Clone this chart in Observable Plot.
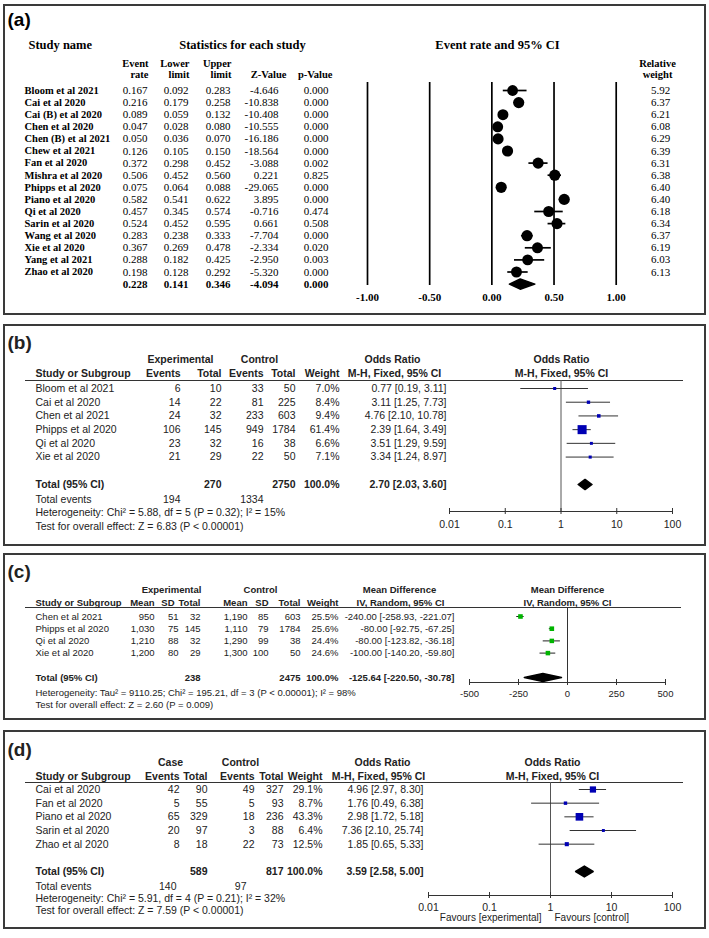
<!DOCTYPE html>
<html><head><meta charset="utf-8">
<script src="https://cdn.jsdelivr.net/npm/d3@7"></script>
<script src="https://cdn.jsdelivr.net/npm/@observablehq/plot@0.6"></script>
<style>
body{margin:0;background:#fff;}
#root{position:relative;width:709px;height:938px;overflow:hidden;background:#fff;}
.box{position:absolute;border:2px solid #3a3a3a;box-sizing:border-box;}
</style></head><body><div id="root"></div>
<script>
// ---------- Panel (a) data ----------
const aStudies = ["Bloom et al 2021","Cai et al 2020","Cai (B) et al 2020","Chen et al 2020","Chen (B) et al 2021","Chew et al 2021","Fan et al 2020","Mishra et al 2020","Phipps et al 2020","Piano et al 2020","Qi et al 2020","Sarin et al 2020","Wang et al 2020","Xie et al 2020","Yang et al 2021","Zhao et al 2020"];
const aRate  = [0.167,0.216,0.089,0.047,0.050,0.126,0.372,0.506,0.075,0.582,0.457,0.524,0.283,0.367,0.288,0.198];
const aLower = [0.092,0.179,0.059,0.028,0.036,0.105,0.298,0.452,0.064,0.541,0.345,0.452,0.238,0.269,0.182,0.128];
const aUpper = [0.283,0.258,0.132,0.080,0.070,0.150,0.452,0.560,0.088,0.622,0.574,0.595,0.333,0.478,0.425,0.292];
const aZ     = [-4.646,-10.838,-10.408,-10.555,-16.186,-18.564,-3.088,0.221,-29.065,3.895,-0.716,0.661,-7.704,-2.334,-2.950,-5.320];
const aP     = [0.000,0.000,0.000,0.000,0.000,0.000,0.002,0.825,0.000,0.000,0.474,0.508,0.000,0.020,0.003,0.000];
const aWeight= [5.92,6.37,6.21,6.08,6.29,6.39,6.31,6.38,6.40,6.40,6.18,6.34,6.37,6.19,6.03,6.13];
const aSumRate = 0.228, aSumLower = 0.141, aSumUpper = 0.346, aSumZ = -4.094, aSumP = 0.000;
const aTicks = [-1, -0.5, 0, 0.5, 1];

// ---------- Panel (b) data ----------
const bStudies = ["Bloom et al 2021","Cai et al 2020","Chen et al 2021","Phipps et al 2020","Qi et al 2020","Xie et al 2020"];
const bExpEvents = [6,14,24,106,23,21];
const bExpTotal  = [10,22,32,145,32,29];
const bCtlEvents = [33,81,233,949,16,22];
const bCtlTotal  = [50,225,603,1784,38,50];
const bWeight    = [7.0,8.4,9.4,61.4,6.6,7.1];
const bOR  = [0.77,3.11,4.76,2.39,3.51,3.34];
const bLo  = [0.19,1.25,2.10,1.64,1.29,1.24];
const bHi  = [3.11,7.73,10.78,3.49,9.59,8.97];
const bTotExp = 270, bTotCtl = 2750, bTotOR = 2.70, bTotLo = 2.03, bTotHi = 3.60;
const bEvExp = 194, bEvCtl = 1334;
const bHet = "Heterogeneity: Chi² = 5.88, df = 5 (P = 0.32); I² = 15%";
const bTest = "Test for overall effect: Z = 6.83 (P < 0.00001)";
const orTicks = [0.01, 0.1, 1, 10, 100];

// ---------- Panel (c) data ----------
const cStudies = ["Chen et al 2021","Phipps et al 2020","Qi et al 2020","Xie et al 2020"];
const cExpMean = [950,1030,1210,1200];
const cExpSD   = [51,75,88,80];
const cExpTotal= [32,145,32,29];
const cCtlMean = [1190,1110,1290,1300];
const cCtlSD   = [85,79,99,100];
const cCtlTotal= [603,1784,38,50];
const cWeight  = [25.5,25.6,24.4,24.6];
const cMD = [-240.00,-80.00,-80.00,-100.00];
const cLo = [-258.93,-92.75,-123.82,-140.20];
const cHi = [-221.07,-67.25,-36.18,-59.80];
const cTotExp = 238, cTotCtl = 2475, cTotMD = -125.64, cTotLo = -220.50, cTotHi = -30.78;
const cHet = "Heterogeneity: Tau² = 9110.25; Chi² = 195.21, df = 3 (P < 0.00001); I² = 98%";
const cTest = "Test for overall effect: Z = 2.60 (P = 0.009)";
const mdTicks = [-500, -250, 0, 250, 500];

// ---------- Panel (d) data ----------
const dStudies = ["Cai et al 2020","Fan et al 2020","Piano et al 2020","Sarin et al 2020","Zhao et al 2020"];
const dCaseEvents = [42,5,65,20,8];
const dCaseTotal  = [90,55,329,97,18];
const dCtlEvents  = [49,5,18,3,22];
const dCtlTotal   = [327,93,236,88,73];
const dWeight     = [29.1,8.7,43.3,6.4,12.5];
const dOR = [4.96,1.76,2.98,7.36,1.85];
const dLo = [2.97,0.49,1.72,2.10,0.65];
const dHi = [8.30,6.38,5.18,25.74,5.33];
const dTotCase = 589, dTotCtl = 817, dTotOR = 3.59, dTotLo = 2.58, dTotHi = 5.00;
const dEvCase = 140, dEvCtl = 97;
const dHet = "Heterogeneity: Chi² = 5.91, df = 4 (P = 0.21); I² = 32%";
const dTest = "Test for overall effect: Z = 7.59 (P < 0.00001)";

// ---------- helpers ----------
const W = 709;
const SANS = '"Liberation Sans", Arial, Helvetica, sans-serif';
const SERIF = '"Liberation Serif", "Times New Roman", Times, serif';
const root = document.getElementById("root");
const f2 = d => d.toFixed(2), f3 = d => d.toFixed(3), f1 = d => d.toFixed(1);
const ci = (e, l, h) => `${f2(e)} [${f2(l)}, ${f2(h)}]`;
const comma = d3.format(",");

function margins(m) {
  return {marginLeft: m.left, marginRight: W - m.right, marginTop: m.top - m.T, marginBottom: m.T + m.H - m.bottom};
}
function T(m) {
  return {
    fixed: (s, x, y, o = {}) => Plot.text([s], {text: d => d, frameAnchor: "top-left", dx: x - m.left, dy: y - m.top, textAnchor: "start", lineAnchor: "middle", ...o}),
    col: (idx, fn, x, o = {}) => Plot.text(idx, {y: i => i, text: fn, frameAnchor: "left", dx: x - m.left, textAnchor: "end", lineAnchor: "middle", ...o})
  };
}
function place(node, top) {
  const w = document.createElement("div");
  w.style.cssText = `position:absolute;left:0;top:${top}px;`;
  w.appendChild(node);
  root.appendChild(w);
}
function box(top, height) {
  const d = document.createElement("div");
  d.className = "box";
  d.style.cssText = `left:3px;top:${top}px;width:703px;height:${height}px;`;
  root.appendChild(d);
}
function diamond(lo, est, hi, row, half) {
  return [{x: lo, y: row}, {x: est, y: row - half}, {x: hi, y: row}, {x: est, y: row + half}];
}

// ================= Panel (a) =================
{
  const m = {T: 0, H: 316, left: 367, right: 615.7, top: 82, bottom: 285};
  const t = T(m);
  const idx = d3.range(aStudies.length);
  const sumRow = aStudies.length;
  const B = {fontWeight: "bold"};
  const hs = {fontWeight: "bold", fontSize: 10.5};
  const ns = {fontSize: 11};
  const svg = Plot.plot({
    width: W, height: m.H, ...margins(m),
    style: {fontFamily: SERIF, fontSize: "11px", color: "#000", background: "transparent", overflow: "visible"},
    x: {domain: [-1, 1], range: [m.left, m.right]},
    y: {domain: [0, sumRow], range: [90 - m.T, 283.6 - m.T], axis: null},
    r: {range: [0, 5.6]},
    marks: [
      Plot.ruleX(aTicks, {stroke: "#000", strokeWidth: 1.7}),
      Plot.axisX({ticks: aTicks, tickSize: 0, tickPadding: 8, tickFormat: f2, fontWeight: "bold", fontSize: 11, label: null}),
      Plot.ruleY(idx, {y: i => i, x1: i => aLower[i], x2: i => aUpper[i], stroke: "#000", strokeWidth: 1.7}),
      Plot.dot(idx, {x: i => aRate[i], y: i => i, r: i => aWeight[i], fill: "#000"}),
      Plot.line(diamond(aSumLower, aSumRate, aSumUpper, sumRow, 0.42), {x: "x", y: "y", curve: "linear-closed", fill: "#000", stroke: "#000"}),
      t.fixed("(a)", 7, 19, {fontFamily: SANS, fontSize: 19, fontWeight: "bold"}),
      t.fixed("Study name", 28, 44, {fontSize: 12.5, ...B}),
      t.fixed("Statistics for each study", 242, 44, {fontSize: 12.5, textAnchor: "middle", ...B}),
      t.fixed("Event rate and 95% CI", 497, 44, {fontSize: 12.5, textAnchor: "middle", ...B}),
      t.fixed("Event", 148, 63, {textAnchor: "end", ...hs}),
      t.fixed("rate", 148, 74, {textAnchor: "end", ...hs}),
      t.fixed("Lower", 189, 63, {textAnchor: "end", ...hs}),
      t.fixed("limit", 189, 74, {textAnchor: "end", ...hs}),
      t.fixed("Upper", 231, 63, {textAnchor: "end", ...hs}),
      t.fixed("limit", 231, 74, {textAnchor: "end", ...hs}),
      t.fixed("Z-Value", 286, 74, {textAnchor: "end", ...hs}),
      t.fixed("p-Value", 332, 74, {textAnchor: "end", ...hs}),
      t.fixed("Relative", 657, 63, {textAnchor: "middle", ...hs}),
      t.fixed("weight", 657, 74, {textAnchor: "middle", ...hs}),
      t.col(idx, i => aStudies[i], 24, {textAnchor: "start", ...hs}),
      t.col(idx, i => f3(aRate[i]), 147, ns),
      t.col(idx, i => f3(aLower[i]), 188, ns),
      t.col(idx, i => f3(aUpper[i]), 230, ns),
      t.col(idx, i => f3(aZ[i]), 278, ns),
      t.col(idx, i => f3(aP[i]), 328, ns),
      t.col(idx, i => f2(aWeight[i]), 660, {textAnchor: "middle", ...ns}),
      t.col([sumRow], () => f3(aSumRate), 147, {...ns, ...B}),
      t.col([sumRow], () => f3(aSumLower), 188, {...ns, ...B}),
      t.col([sumRow], () => f3(aSumUpper), 230, {...ns, ...B}),
      t.col([sumRow], () => f3(aSumZ), 278, {...ns, ...B}),
      t.col([sumRow], () => f3(aSumP), 328, {...ns, ...B})
    ]
  });
  box(4, 311);
  place(svg, m.T);
}

// ================= Panel (b) =================
{
  const m = {T: 324, H: 222, left: 449, right: 672, top: 380, bottom: 511};
  const t = T(m);
  const idx = d3.range(bStudies.length);
  const tot = bStudies.length + 1;
  const B = {fontWeight: "bold"};
  const svg = Plot.plot({
    width: W, height: m.H, ...margins(m),
    style: {fontFamily: SANS, fontSize: "10.5px", color: "#222", background: "transparent", overflow: "visible"},
    x: {type: "log", domain: [0.01, 100], range: [m.left, m.right]},
    y: {domain: [0, tot], range: [388 - m.T, 484 - m.T], axis: null},
    r: {range: [0, 5.1]},
    marks: [
      Plot.frame({anchor: "top", stroke: "#333", insetLeft: -(m.left - 25), insetRight: -(682 - m.right)}),
      Plot.frame({anchor: "bottom", stroke: "#333"}),
      Plot.ruleX([1], {stroke: "#555"}),
      Plot.axisX({ticks: orTicks, tickSize: 6, dy: -3, tickFormat: () => "", stroke: "#333", label: null}),
      Plot.axisX({ticks: orTicks, tickSize: 0, tickPadding: 9, tickFormat: d => String(d), fontSize: 10.5, label: null}),
      Plot.ruleY(idx, {y: i => i, x1: i => bLo[i], x2: i => bHi[i], stroke: "#333"}),
      Plot.dot(idx, {x: i => bOR[i], y: i => i, r: i => bWeight[i], symbol: "square", fill: "#0000b4"}),
      Plot.line(diamond(bTotLo, bTotOR, bTotHi, tot, 0.37), {x: "x", y: "y", curve: "linear-closed", fill: "#000", stroke: "#000"}),
      t.fixed("(b)", 7, 342, {fontSize: 19, ...B}),
      t.fixed("Experimental", 180, 359, {textAnchor: "middle", ...B}),
      t.fixed("Control", 259, 359, {textAnchor: "middle", ...B}),
      t.fixed("Odds Ratio", 392, 359, {textAnchor: "middle", ...B}),
      t.fixed("Odds Ratio", 561, 359, {textAnchor: "middle", ...B}),
      t.fixed("Study or Subgroup", 35, 373, B),
      t.fixed("Events", 180, 373, {textAnchor: "end", ...B}),
      t.fixed("Total", 221, 373, {textAnchor: "end", ...B}),
      t.fixed("Events", 263, 373, {textAnchor: "end", ...B}),
      t.fixed("Total", 295, 373, {textAnchor: "end", ...B}),
      t.fixed("Weight", 339, 373, {textAnchor: "end", ...B}),
      t.fixed("M-H, Fixed, 95% CI", 394, 373, {textAnchor: "middle", ...B}),
      t.fixed("M-H, Fixed, 95% CI", 561, 373, {textAnchor: "middle", ...B}),
      t.col(idx, i => bStudies[i], 35, {textAnchor: "start"}),
      t.col(idx, i => String(bExpEvents[i]), 180),
      t.col(idx, i => String(bExpTotal[i]), 221),
      t.col(idx, i => String(bCtlEvents[i]), 263),
      t.col(idx, i => String(bCtlTotal[i]), 295),
      t.col(idx, i => f1(bWeight[i]) + "%", 339),
      t.col(idx, i => ci(bOR[i], bLo[i], bHi[i]), 446),
      t.col([tot], () => "Total (95% CI)", 35, {textAnchor: "start", ...B}),
      t.col([tot], () => String(bTotExp), 221, B),
      t.col([tot], () => String(bTotCtl), 295, B),
      t.col([tot], () => "100.0%", 339, B),
      t.col([tot], () => ci(bTotOR, bTotLo, bTotHi), 446, B),
      t.fixed("Total events", 35, 499),
      t.fixed(String(bEvExp), 180, 499, {textAnchor: "end"}),
      t.fixed(String(bEvCtl), 263, 499, {textAnchor: "end"}),
      t.fixed(bHet, 35, 512),
      t.fixed(bTest, 35, 526)
    ]
  });
  box(324, 222);
  place(svg, m.T);
}

// ================= Panel (c) =================
{
  const m = {T: 553, H: 167, left: 469, right: 665, top: 607, bottom: 682};
  const t = T(m);
  const idx = d3.range(cStudies.length);
  const tot = cStudies.length + 1;
  const B = {fontWeight: "bold"};
  const svg = Plot.plot({
    width: W, height: m.H, ...margins(m),
    style: {fontFamily: SANS, fontSize: "9.5px", color: "#222", background: "transparent", overflow: "visible"},
    x: {domain: [-500, 500], range: [m.left, m.right]},
    y: {domain: [0, tot], range: [616 - m.T, 677 - m.T], axis: null},
    r: {range: [0, 2.6]},
    marks: [
      Plot.frame({anchor: "top", stroke: "#333", insetLeft: -(m.left - 25), insetRight: -(680 - m.right)}),
      Plot.frame({anchor: "bottom", stroke: "#333"}),
      Plot.ruleX([0], {stroke: "#333"}),
      Plot.axisX({ticks: mdTicks, tickSize: 6, dy: -3, tickFormat: () => "", stroke: "#333", label: null}),
      Plot.axisX({ticks: mdTicks, tickSize: 0, tickPadding: 8, tickFormat: d => String(d), fontSize: 9.5, label: null}),
      Plot.ruleY(idx, {y: i => i, x1: i => cLo[i], x2: i => cHi[i], stroke: "#222"}),
      Plot.dot(idx, {x: i => cMD[i], y: i => i, r: i => cWeight[i], symbol: "square", fill: "#00b400"}),
      Plot.line(diamond(cTotLo, cTotMD, cTotHi, tot, 0.33), {x: "x", y: "y", curve: "linear-closed", fill: "#000", stroke: "#000"}),
      t.fixed("(c)", 7, 571, {fontSize: 19, ...B}),
      t.fixed("Experimental", 171, 589, {textAnchor: "middle", ...B}),
      t.fixed("Control", 260, 589, {textAnchor: "middle", ...B}),
      t.fixed("Mean Difference", 399, 589, {textAnchor: "middle", ...B}),
      t.fixed("Mean Difference", 567, 589, {textAnchor: "middle", ...B}),
      t.fixed("Study or Subgroup", 35, 602, B),
      t.fixed("Mean", 154, 602, {textAnchor: "end", ...B}),
      t.fixed("SD", 174, 602, {textAnchor: "end", ...B}),
      t.fixed("Total", 200, 602, {textAnchor: "end", ...B}),
      t.fixed("Mean", 247, 602, {textAnchor: "end", ...B}),
      t.fixed("SD", 268, 602, {textAnchor: "end", ...B}),
      t.fixed("Total", 300, 602, {textAnchor: "end", ...B}),
      t.fixed("Weight", 338, 602, {textAnchor: "end", ...B}),
      t.fixed("IV, Random, 95% CI", 400, 602, {textAnchor: "middle", ...B}),
      t.fixed("IV, Random, 95% CI", 567, 602, {textAnchor: "middle", ...B}),
      t.col(idx, i => cStudies[i], 35, {textAnchor: "start"}),
      t.col(idx, i => comma(cExpMean[i]), 154),
      t.col(idx, i => String(cExpSD[i]), 178),
      t.col(idx, i => String(cExpTotal[i]), 200),
      t.col(idx, i => comma(cCtlMean[i]), 247),
      t.col(idx, i => String(cCtlSD[i]), 268),
      t.col(idx, i => String(cCtlTotal[i]), 300),
      t.col(idx, i => f1(cWeight[i]) + "%", 338),
      t.col(idx, i => ci(cMD[i], cLo[i], cHi[i]), 454),
      t.col([tot], () => "Total (95% CI)", 35, {textAnchor: "start", ...B}),
      t.col([tot], () => String(cTotExp), 200, B),
      t.col([tot], () => String(cTotCtl), 300, B),
      t.col([tot], () => "100.0%", 338, B),
      t.col([tot], () => ci(cTotMD, cTotLo, cTotHi), 454, B),
      t.fixed(cHet, 35, 692),
      t.fixed(cTest, 35, 704)
    ]
  });
  box(553, 167);
  place(svg, m.T);
}

// ================= Panel (d) =================
{
  const m = {T: 730, H: 199, left: 428, right: 672, top: 782, bottom: 895};
  const t = T(m);
  const idx = d3.range(dStudies.length);
  const tot = dStudies.length + 1;
  const B = {fontWeight: "bold"};
  const svg = Plot.plot({
    width: W, height: m.H, ...margins(m),
    style: {fontFamily: SANS, fontSize: "10.5px", color: "#222", background: "transparent", overflow: "visible"},
    x: {type: "log", domain: [0.01, 100], range: [m.left, m.right]},
    y: {domain: [0, tot], range: [789 - m.T, 871 - m.T], axis: null},
    r: {range: [0, 4.3]},
    marks: [
      Plot.frame({anchor: "top", stroke: "#333", insetLeft: -(m.left - 25), insetRight: -(682 - m.right)}),
      Plot.frame({anchor: "bottom", stroke: "#333"}),
      Plot.ruleX([1], {stroke: "#555"}),
      Plot.axisX({ticks: orTicks, tickSize: 6, dy: -3, tickFormat: () => "", stroke: "#333", label: null}),
      Plot.axisX({ticks: orTicks, tickSize: 0, tickPadding: 8, tickFormat: d => String(d), fontSize: 10.5, label: null}),
      Plot.ruleY(idx, {y: i => i, x1: i => dLo[i], x2: i => dHi[i], stroke: "#333"}),
      Plot.dot(idx, {x: i => dOR[i], y: i => i, r: i => dWeight[i], symbol: "square", fill: "#0000b4"}),
      Plot.line(diamond(dTotLo, dTotOR, dTotHi, tot, 0.4), {x: "x", y: "y", curve: "linear-closed", fill: "#000", stroke: "#000"}),
      t.fixed("(d)", 7, 749, {fontSize: 19, ...B}),
      t.fixed("Case", 170, 762, {textAnchor: "middle", ...B}),
      t.fixed("Control", 240, 762, {textAnchor: "middle", ...B}),
      t.fixed("Odds Ratio", 382, 762, {textAnchor: "middle", ...B}),
      t.fixed("Odds Ratio", 552, 762, {textAnchor: "middle", ...B}),
      t.fixed("Study or Subgroup", 35, 776, B),
      t.fixed("Events", 179, 776, {textAnchor: "end", ...B}),
      t.fixed("Total", 207, 776, {textAnchor: "end", ...B}),
      t.fixed("Events", 254, 776, {textAnchor: "end", ...B}),
      t.fixed("Total", 283, 776, {textAnchor: "end", ...B}),
      t.fixed("Weight", 322, 776, {textAnchor: "end", ...B}),
      t.fixed("M-H, Fixed, 95% CI", 378, 776, {textAnchor: "middle", ...B}),
      t.fixed("M-H, Fixed, 95% CI", 552, 776, {textAnchor: "middle", ...B}),
      t.col(idx, i => dStudies[i], 35, {textAnchor: "start"}),
      t.col(idx, i => String(dCaseEvents[i]), 179),
      t.col(idx, i => String(dCaseTotal[i]), 207),
      t.col(idx, i => String(dCtlEvents[i]), 254),
      t.col(idx, i => String(dCtlTotal[i]), 283),
      t.col(idx, i => f1(dWeight[i]) + "%", 322),
      t.col(idx, i => ci(dOR[i], dLo[i], dHi[i]), 423),
      t.col([tot], () => "Total (95% CI)", 35, {textAnchor: "start", ...B}),
      t.col([tot], () => String(dTotCase), 207, B),
      t.col([tot], () => String(dTotCtl), 283, B),
      t.col([tot], () => "100.0%", 322, B),
      t.col([tot], () => ci(dTotOR, dTotLo, dTotHi), 423, B),
      t.fixed("Total events", 35, 886),
      t.fixed(String(dEvCase), 176, 886, {textAnchor: "end"}),
      t.fixed(String(dEvCtl), 246, 886, {textAnchor: "end"}),
      t.fixed(dHet, 35, 898),
      t.fixed(dTest, 35, 910),
      t.fixed("Favours [experimental]", 541, 917, {textAnchor: "end", fontSize: 10}),
      t.fixed("Favours [control]", 554, 917, {fontSize: 10})
    ]
  });
  box(730, 199);
  place(svg, m.T);
}
</script></body></html>
